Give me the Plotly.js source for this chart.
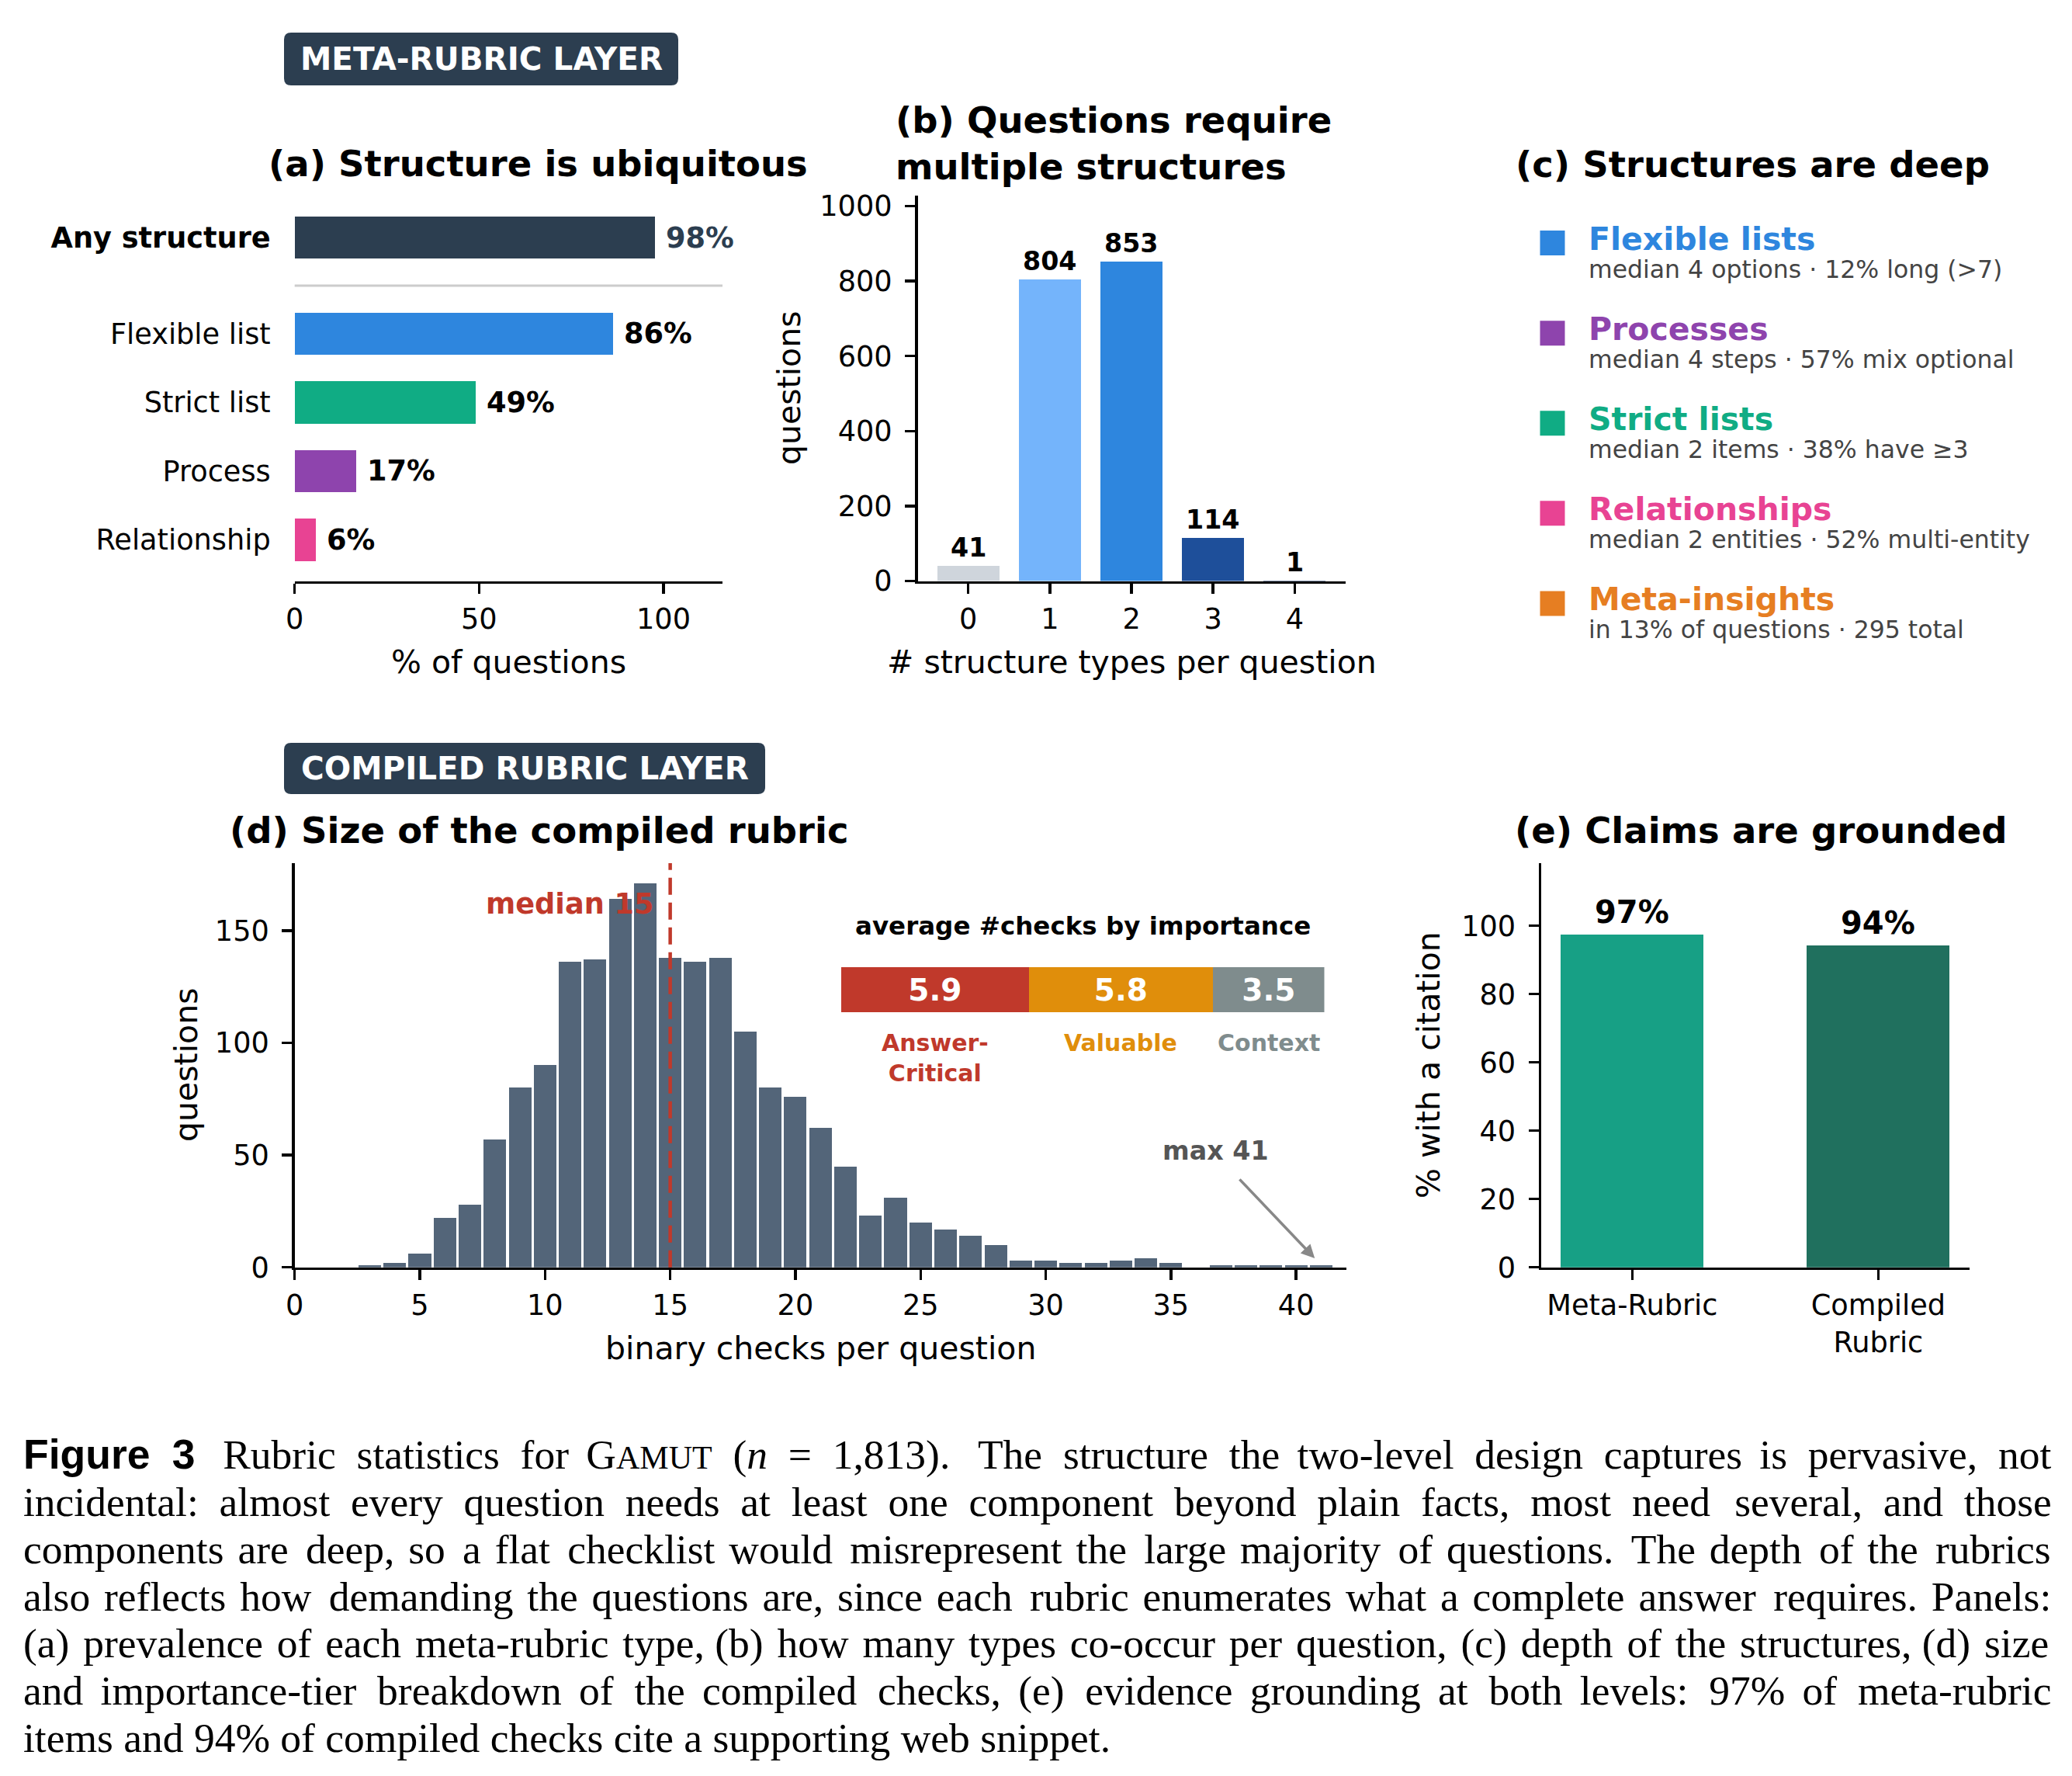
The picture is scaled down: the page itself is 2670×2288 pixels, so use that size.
<!DOCTYPE html>
<html><head><meta charset="utf-8">
<script src="https://cdn.plot.ly/plotly-3.0.1.min.js"></script>
<style>html,body{margin:0;padding:0;background:#fff;} #chart{width:2670px;height:2288px;}</style>
</head><body><div id="chart"></div>
<script>
// ---------------- data ----------------
const prevCategories = ['Any structure', 'Flexible list', 'Strict list', 'Process', 'Relationship'];
const prevValues = [97.7, 86.4, 49.1, 16.7, 5.7];
const prevColors = ['#2c3e50', '#2e86de', '#10ac84', '#8e44ad', '#e84393'];

const structureCounts = [0, 1, 2, 3, 4];
const structureQuestions = [41, 804, 853, 114, 1];
const structureColors = ['#cfd5dc', '#74b4fb', '#2e86de', '#1e4f9a', '#0c2a5e'];

const depthNames = ['Flexible lists', 'Processes', 'Strict lists', 'Relationships', 'Meta-insights'];
const depthNotes = ['median 4 options · 12% long (>7)', 'median 4 steps · 57% mix optional',
  'median 2 items · 38% have ≥3', 'median 2 entities · 52% multi-entity', 'in 13% of questions · 295 total'];
const depthColors = ['#2e86de', '#8e44ad', '#10ac84', '#e84393', '#e67e22'];

const checksPerQuestion = [0,1,2,3,4,5,6,7,8,9,10,11,12,13,14,15,16,17,18,19,20,21,22,23,24,25,26,27,28,29,30,31,32,33,34,35,36,37,38,39,40,41];
const questionsPerCount = [0,0,0,1,2,6,22,28,57,80,90,136,137,164,171,138,136,138,105,80,76,62,45,23,31,20,17,14,10,3,3,2,2,3,4,2,0,1,1,1,1,1];
const medianChecks = 15;
const maxChecks = 41;

const tierNames = ['Answer-<br>Critical', 'Valuable', 'Context'];
const tierAverages = [5.9, 5.8, 3.5];
const tierColors = ['#c0392b', '#e08e0b', '#7f8c8d'];

const groundLevels = ['Meta-Rubric', 'Compiled<br>Rubric'];
const groundPercent = [97.4, 94.3];
const groundColors = ['#17a085', '#20705e'];

const captionLines = [
  '<span style="font-family:Liberation Sans"><b>Figure 3</b></span>\u00a0 Rubric statistics for G<span style="font-size:42px">AMUT</span> (<i>n</i> = 1,813).\u00a0 The structure the two-level design captures is pervasive, not',
  'incidental: almost every question needs at least one component beyond plain facts, most need several, and those',
  'components are deep, so a flat checklist would misrepresent the large majority of questions. The depth of the rubrics',
  'also reflects how demanding the questions are, since each rubric enumerates what a complete answer requires. Panels:',
  '(a) prevalence of each meta-rubric type, (b) how many types co-occur per question, (c) depth of the structures, (d) size',
  'and importance-tier breakdown of the compiled checks, (e) evidence grounding at both levels: 97% of meta-rubric',
  'items and 94% of compiled checks cite a supporting web snippet.'
];

// ---------------- helpers ----------------
const W = 2670, H = 2288;
const FONT = 'DejaVu Sans';
const CAPFONT = 'Liberation Serif', CAPSIZE = 53.5;
const TICK = 36.7, AXT = 41, TTL = 46.5;
const px = x => x / W;
const py = y => 1 - y / H;
const hdom = (a, b) => [a / W, b / W];
const vdom = (top, bottom) => [1 - bottom / H, 1 - top / H];

function axisStyle(extra) {
  return Object.assign({
    showgrid: false, zeroline: false, showline: true, linecolor: '#000', linewidth: 3.5,
    ticks: 'outside', ticklen: 13, tickwidth: 3.5, tickcolor: '#000',
    tickfont: {family: FONT, size: TICK, color: '#000'}, fixedrange: true, automargin: false
  }, extra);
}
function hidden(extra) {
  return Object.assign({visible: false, showgrid: false, zeroline: false, fixedrange: true}, extra);
}
function txt(text, x, y, size, opts) {
  return Object.assign({
    text: text, x: x, y: y, xref: 'paper', yref: 'paper', showarrow: false,
    xanchor: 'center', yanchor: 'middle', font: {family: FONT, size: size, color: '#000'}
  }, opts || {});
}
function roundRect(x0, y0, x1, y1, r) {
  const X = v => (v / W).toFixed(5), Y = v => (1 - v / H).toFixed(5);
  return 'M' + X(x0 + r) + ',' + Y(y0) + ' L' + X(x1 - r) + ',' + Y(y0) +
    ' Q' + X(x1) + ',' + Y(y0) + ' ' + X(x1) + ',' + Y(y0 + r) +
    ' L' + X(x1) + ',' + Y(y1 - r) + ' Q' + X(x1) + ',' + Y(y1) + ' ' + X(x1 - r) + ',' + Y(y1) +
    ' L' + X(x0 + r) + ',' + Y(y1) + ' Q' + X(x0) + ',' + Y(y1) + ' ' + X(x0) + ',' + Y(y1 - r) +
    ' L' + X(x0) + ',' + Y(y0 + r) + ' Q' + X(x0) + ',' + Y(y0) + ' ' + X(x0 + r) + ',' + Y(y0) + ' Z';
}

// justify a caption line by padding every word gap evenly with hair spaces (widths measured on a canvas)
const measureCtx = document.createElement('canvas').getContext('2d');
function fontStr(s) {
  return (s.italic ? 'italic ' : '') + (s.bold ? 'bold ' : '') + s.size + 'px "' + s.family + '"';
}
function measure(str, s) { measureCtx.font = fontStr(s); return measureCtx.measureText(str).width; }
function justify(markup, target) {
  const tokens = markup.split(/(<[^>]+>)/).filter(t => t.length);
  const base = {family: CAPFONT, size: CAPSIZE, bold: false, italic: false};
  const stack = [base];
  let width = 0, spaces = 0;
  tokens.forEach(t => {
    const top = stack[stack.length - 1];
    if (t[0] === '<') {
      if (t[1] === '/') { if (stack.length > 1) stack.pop(); return; }
      if (/^<br/i.test(t)) return;
      const s = Object.assign({}, top);
      if (/^<b>/i.test(t)) s.bold = true;
      if (/^<i>/i.test(t)) s.italic = true;
      const fam = t.match(/font-family:\s*([^;"]+)/); if (fam) s.family = fam[1].trim();
      const sz = t.match(/font-size:\s*([\d.]+)px/); if (sz) s.size = parseFloat(sz[1]);
      stack.push(s);
    } else {
      width += measure(t, top);
      spaces += (t.match(/ /g) || []).length;
    }
  });
  const extra = target - width;
  if (extra <= 0 || spaces === 0) return markup;
  const hair = measure('\u200a', base), thin = measure('\u2009', base);
  const unit = hair > 0.5 ? hair : thin;
  const pad = hair > 0.5 ? '\u200a' : '\u2009';
  if (!(unit > 0.5)) return markup;
  let j = 0, used = 0;
  return tokens.map(t => {
    if (t[0] === '<') return t;
    return t.replace(/ /g, () => {
      j++;
      const want = Math.round(extra * j / spaces / unit);
      const n = Math.max(0, want - used);
      used += n;
      return ' ' + pad.repeat(n);
    });
  }).join('');
}

// positions of panel (a) rows: "Any structure" set apart above the four types
const prevPos = prevCategories.map((c, i) => i === 0 ? (prevCategories.length - 2) + 1.4 : prevCategories.length - 1 - i);
const prevTickText = prevCategories.map((c, i) => i === 0 ? '<b>' + c + '</b>' : c);

const traces = [];
// (a)
traces.push({type: 'bar', orientation: 'h', x: prevValues, y: prevPos, width: 0.615,
  marker: {color: prevColors}, xaxis: 'x', yaxis: 'y', hoverinfo: 'skip'});
// (b)
traces.push({type: 'bar', x: structureCounts, y: structureQuestions, width: 0.76,
  marker: {color: structureColors}, xaxis: 'x2', yaxis: 'y2', hoverinfo: 'skip'});
// (c) colour keys
traces.push({type: 'scatter', mode: 'markers', x: depthNames.map(() => 0), y: depthNames.map((d, i) => i),
  marker: {symbol: 'square', size: 32, color: depthColors, line: {width: 0}}, cliponaxis: false,
  xaxis: 'x3', yaxis: 'y3', hoverinfo: 'skip'});
// (d) histogram
traces.push({type: 'bar', x: checksPerQuestion, y: questionsPerCount, width: 0.9,
  marker: {color: '#536579'}, xaxis: 'x4', yaxis: 'y4', hoverinfo: 'skip'});
// (d) inset stacked bar
tierAverages.forEach((v, i) => {
  traces.push({type: 'bar', orientation: 'h', x: [v], y: [0], width: 1, marker: {color: tierColors[i]},
    text: [v.toFixed(1)], textposition: 'inside', insidetextanchor: 'middle', textangle: 0,
    textfont: {family: FONT, size: 39, color: '#fff'},
    texttemplate: '<b>%{text}</b>', xaxis: 'x5', yaxis: 'y5', hoverinfo: 'skip'});
});
// (e)
traces.push({type: 'bar', x: groundLevels.map((g, i) => i), y: groundPercent, width: 0.58,
  marker: {color: groundColors}, xaxis: 'x6', yaxis: 'y6', hoverinfo: 'skip'});

const annotations = [];
const shapes = [];

// badges
shapes.push({type: 'path', xref: 'paper', yref: 'paper', path: roundRect(366, 42, 874, 110, 9),
  fillcolor: '#2c3e50', line: {width: 0}});
shapes.push({type: 'path', xref: 'paper', yref: 'paper', path: roundRect(366, 957, 986, 1023, 9),
  fillcolor: '#2c3e50', line: {width: 0}});
annotations.push(txt('<b>META-RUBRIC LAYER</b>', px(620), py(76), 40.5, {font: {family: FONT, size: 40.5, color: '#fff'}}));
annotations.push(txt('<b>COMPILED RUBRIC LAYER</b>', px(676), py(990), 40.5, {font: {family: FONT, size: 40.5, color: '#fff'}}));

// panel titles
annotations.push(txt('<b>(a) Structure is ubiquitous</b>', px(693), py(211), TTL));
annotations.push(txt('<b>(b) Questions require<br>multiple structures</b>', px(1152), py(185), TTL, {xanchor: 'left', align: 'left'}));
annotations.push(txt('<b>(c) Structures are deep</b>', px(2258), py(212), TTL));
annotations.push(txt('<b>(d) Size of the compiled rubric</b>', px(695), py(1070), TTL));
annotations.push(txt('<b>(e) Claims are grounded</b>', px(2269), py(1070), TTL));

// axis titles
annotations.push(txt('% of questions', px(655.5), py(853), AXT));
annotations.push(txt('# structure types per question', px(1458), py(853), AXT));
annotations.push(txt('questions', px(1017), py(500), AXT, {textangle: -90}));
annotations.push(txt('binary checks per question', px(1057), py(1737), AXT));
annotations.push(txt('questions', px(240), py(1372), AXT, {textangle: -90}));
annotations.push(txt('% with a citation', px(1841), py(1372), AXT, {textangle: -90}));

// (a) value labels
prevValues.forEach((v, i) => {
  annotations.push({text: '<b>' + Math.round(v) + '%</b>', x: v, y: prevPos[i], xref: 'x', yref: 'y',
    showarrow: false, xanchor: 'left', yanchor: 'middle', xshift: 12,
    font: {family: FONT, size: TICK, color: i === 0 ? '#2c3e50' : '#000'}});
});
// separator under "Any structure"
shapes.push({type: 'line', xref: 'x domain', x0: 0, x1: 1, yref: 'y',
  y0: (prevPos[0] + prevPos[1]) / 2, y1: (prevPos[0] + prevPos[1]) / 2, line: {color: '#cccccc', width: 3}});

// (b) value labels
structureQuestions.forEach((v, i) => {
  annotations.push({text: '<b>' + v + '</b>', x: structureCounts[i], y: v, xref: 'x2', yref: 'y2',
    showarrow: false, xanchor: 'center', yanchor: 'bottom', yshift: 2,
    font: {family: FONT, size: 33.3, color: '#000'}});
});

// (c) text rows
depthNames.forEach((n, i) => {
  annotations.push({text: '<b>' + n + '</b>', x: 0, y: i, xref: 'x3', yref: 'y3', showarrow: false,
    xanchor: 'left', yanchor: 'middle', xshift: 44, yshift: 5,
    font: {family: FONT, size: 41, color: depthColors[i]}});
  annotations.push({text: depthNotes[i], x: 0, y: i, xref: 'x3', yref: 'y3', showarrow: false,
    xanchor: 'left', yanchor: 'middle', xshift: 44, yshift: -34,
    font: {family: FONT, size: 31.5, color: '#444'}});
});

// (d) median line + label
shapes.push({type: 'line', xref: 'x4', x0: medianChecks, x1: medianChecks, yref: 'y4 domain', y0: 0, y1: 1,
  line: {color: '#c0392b', width: 4.5, dash: '22px,10px'}});
annotations.push({text: '<b>median ' + medianChecks + '</b>', x: medianChecks, y: 0.899, xref: 'x4', yref: 'y4 domain',
  showarrow: false, xanchor: 'right', yanchor: 'middle', xshift: -19,
  font: {family: FONT, size: TICK, color: '#c0392b'}});
// (d) max arrow + label
annotations.push({text: '', x: maxChecks, y: questionsPerCount[checksPerQuestion.indexOf(maxChecks)], xref: 'x4', yref: 'y4',
  ax: maxChecks - 3.3, ay: 39.7, axref: 'x4', ayref: 'y4', showarrow: true,
  arrowcolor: '#888', arrowwidth: 3.5, arrowhead: 2, arrowsize: 1, standoff: 12});
annotations.push({text: '<b>max ' + maxChecks + '</b>', x: maxChecks - 4.2, y: 52, xref: 'x4', yref: 'y4',
  showarrow: false, xanchor: 'center', yanchor: 'middle', font: {family: FONT, size: 33.3, color: '#555'}});

// (d) inset title + tier labels
annotations.push({text: '<b>average #checks by importance</b>', x: 0.5, y: 1, xref: 'x5 domain', yref: 'y5 domain',
  showarrow: false, xanchor: 'center', yanchor: 'middle', yshift: 53,
  font: {family: FONT, size: 32.5, color: '#000'}});
let cum = 0;
tierAverages.forEach((v, i) => {
  annotations.push({text: '<b>' + tierNames[i] + '</b>', x: cum + v / 2, y: 0, xref: 'x5', yref: 'y5 domain',
    showarrow: false, xanchor: 'center', yanchor: 'top', yshift: -20,
    font: {family: FONT, size: 30, color: tierColors[i]}});
  cum += v;
});

// (e) labels
groundPercent.forEach((v, i) => {
  annotations.push({text: '<b>' + Math.round(v) + '%</b>', x: i, y: v, xref: 'x6', yref: 'y6',
    showarrow: false, xanchor: 'center', yanchor: 'bottom', yshift: 4,
    font: {family: FONT, size: 40, color: '#000'}});
});

// caption (all lines but the last are justified to the full text width)
const capY = [1874, 1935, 1996, 2057, 2117, 2178, 2239];
const capLeft = 28, capWidth = 2612;
captionLines.forEach((l, i) => {
  const line = i < captionLines.length - 1 ? justify(l, capWidth) : l;
  annotations.push(txt(line, px(capLeft), py(capY[i]), CAPSIZE, {xanchor: 'left',
    font: {family: CAPFONT, size: CAPSIZE, color: '#000'}}));
});

const layout = {
  width: W, height: H, margin: {l: 0, r: 0, t: 0, b: 0, pad: 0},
  paper_bgcolor: '#fff', plot_bgcolor: 'rgba(0,0,0,0)', showlegend: false, hovermode: false,
  barmode: 'stack', font: {family: FONT, color: '#000'},
  xaxis: axisStyle({domain: hdom(379.7, 931), range: [0, 116], anchor: 'y', tickvals: [0, 50, 100], ticklabelstandoff: 1}),
  yaxis: axisStyle({domain: vdom(270.6, 748.5), range: [-0.6, 4.8], anchor: 'x', tickvals: prevPos, ticktext: prevTickText,
    ticks: '', showline: false, ticklabelstandoff: 30}),
  xaxis2: axisStyle({domain: hdom(1182.5, 1733.6), range: [-0.62, 4.62], anchor: 'y2', tickvals: structureCounts, ticklabelstandoff: 1}),
  yaxis2: axisStyle({domain: vdom(252, 748.5), range: [0, 1028], anchor: 'x2', tickvals: [0, 200, 400, 600, 800, 1000], ticklabelstandoff: 9}),
  xaxis3: hidden({domain: hdom(2000.5, 2620), range: [0, 1], anchor: 'y3'}),
  yaxis3: hidden({domain: vdom(254.95, 835.55), range: [4.5, -0.5], anchor: 'x3'}),
  xaxis4: axisStyle({domain: hdom(379.7, 1734.7), range: [0, 42], anchor: 'y4', tickvals: [0, 5, 10, 15, 20, 25, 30, 35, 40], ticklabelstandoff: 1}),
  yaxis4: axisStyle({domain: vdom(1112, 1632.7), range: [0, 180], anchor: 'x4', tickvals: [0, 50, 100, 150], ticklabelstandoff: 9}),
  xaxis5: hidden({domain: hdom(1084, 1706.5), range: [0, tierAverages.reduce((a, b) => a + b, 0)], anchor: 'y5'}),
  yaxis5: hidden({domain: vdom(1246, 1304), range: [-0.5, 0.5], anchor: 'x5'}),
  xaxis6: axisStyle({domain: hdom(1986, 2537.7), range: [-0.37, 1.37], anchor: 'y6', tickvals: [0, 1], ticktext: groundLevels, ticklabelstandoff: 1}),
  yaxis6: axisStyle({domain: vdom(1112.2, 1632.7), range: [0, 118.3], anchor: 'x6', tickvals: [0, 20, 40, 60, 80, 100], ticklabelstandoff: 9}),
  annotations: annotations,
  shapes: shapes
};

Plotly.newPlot('chart', traces, layout, {staticPlot: true, displayModeBar: false});
</script>
</body></html>
